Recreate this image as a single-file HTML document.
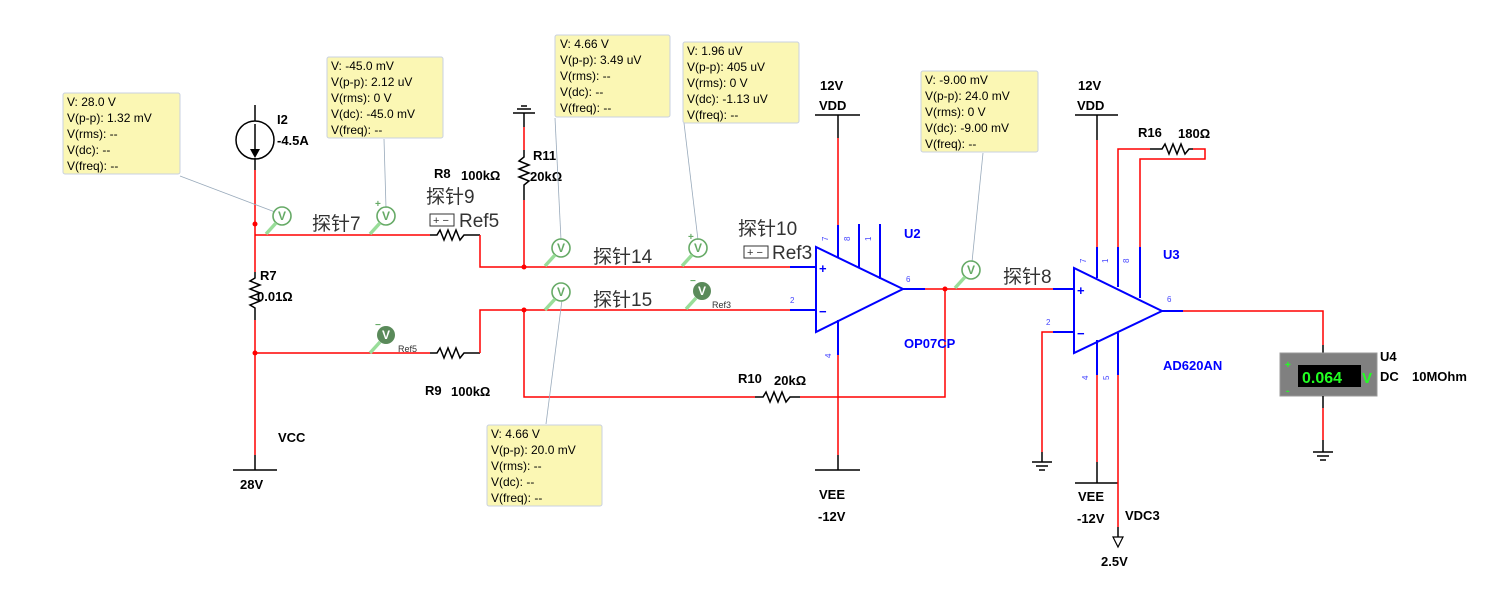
<!DOCTYPE html>
<html><head><meta charset="utf-8"><style>
html,body{margin:0;padding:0;background:#fff;}
svg{display:block;font-family:"Liberation Sans","Noto Sans CJK SC",sans-serif;}
.r{stroke:#f00;stroke-width:1.5;fill:none}
.k{stroke:#000;stroke-width:1.5;fill:none}
.b{stroke:#00f;stroke-width:2;fill:none}
.bx{fill:#fbf7b4;stroke:#c8d0e0;stroke-width:1}
.bt{font-size:12px;fill:#000}
.lbl{font-size:13px;font-weight:bold;fill:#000}
.bl{font-size:13px;font-weight:bold;fill:#00f}
.cn{font-size:19px;fill:#333}
.pn{font-size:8px;fill:#44f}
.ln{stroke:#9ab;stroke-width:0.8}
</style></head><body>
<svg width="1506" height="602" viewBox="0 0 1506 602">
<!-- left column -->
<line class="k" x1="255" y1="105" x2="255" y2="121"/>
<circle cx="255" cy="140" r="19" fill="none" stroke="#000" stroke-width="1.5"/>
<line class="k" x1="255" y1="124" x2="255" y2="152"/>
<polygon points="250,149 260,149 255,158" fill="#000"/>
<line class="k" x1="255" y1="158" x2="255" y2="170"/>
<line class="r" x1="255" y1="170" x2="255" y2="272"/>
<polyline class="k" points="255,272 255,278 250,281 260,285 250,289 260,293 250,297 260,301 250,305 255,308 255,320"/>
<line class="r" x1="255" y1="320" x2="255" y2="455"/>
<line class="k" x1="255" y1="455" x2="255" y2="470"/>
<line class="k" x1="233" y1="470" x2="277" y2="470"/>
<circle cx="255" cy="224" r="2.5" fill="#f00"/>
<circle cx="255" cy="353" r="2.5" fill="#f00"/>
<!-- R8 path -->
<line class="r" x1="255" y1="235" x2="430" y2="235"/>
<polyline class="k" points="430,235 437,235 440,230 444,240 448,230 452,240 456,230 460,240 464,235 480,235"/>
<polyline class="r" points="480,235 480,267 790,267"/>
<line class="b" x1="790" y1="267" x2="815" y2="267"/>
<!-- R11 -->
<line class="k" x1="513" y1="113" x2="535" y2="113"/><line class="k" x1="517" y1="109" x2="531" y2="109"/><line class="k" x1="521" y1="106" x2="527" y2="106"/>
<line class="k" x1="524" y1="113" x2="524" y2="127"/>
<line class="r" x1="524" y1="127" x2="524" y2="150"/>
<polyline class="k" points="524,150 524,157 519,161 529,165 519,169 529,173 519,177 529,181 524,185 524,200"/>
<line class="r" x1="524" y1="200" x2="524" y2="267"/>
<circle cx="524" cy="267" r="2.5" fill="#f00"/>
<!-- R9 path -->
<line class="r" x1="255" y1="353" x2="430" y2="353"/>
<polyline class="k" points="430,353 437,353 440,348 444,358 448,348 452,358 456,348 460,358 464,353 480,353"/>
<polyline class="r" points="480,353 480,310 790,310"/>
<line class="b" x1="790" y1="310" x2="815" y2="310"/>
<circle cx="524" cy="310" r="2.5" fill="#f00"/>
<polyline class="r" points="524,310 524,397 755,397"/>
<polyline class="k" points="755,397 763,397 766,392 770,402 774,392 778,402 782,392 786,402 790,397 800,397"/>
<polyline class="r" points="800,397 945,397 945,289"/>
<circle cx="945" cy="289" r="2.5" fill="#f00"/>
<!-- U2 -->
<polygon points="816,247 816,332 903,289" fill="none" stroke="#00f" stroke-width="2"/>
<text x="819" y="273" class="bl" font-size="16">+</text>
<text x="819" y="316" class="bl" font-size="16">−</text>
<line class="k" x1="815" y1="115" x2="860" y2="115"/>
<line class="k" x1="838" y1="115" x2="838" y2="138"/>
<line class="r" x1="838" y1="138" x2="838" y2="225"/>
<line class="b" x1="838" y1="225" x2="838" y2="258"/>
<line class="b" x1="859" y1="224" x2="859" y2="268"/>
<line class="b" x1="880" y1="224" x2="880" y2="279"/>
<line class="b" x1="838" y1="320" x2="838" y2="355"/>
<line class="r" x1="838" y1="355" x2="838" y2="455"/>
<line class="k" x1="838" y1="455" x2="838" y2="470"/>
<line class="k" x1="815" y1="470" x2="860" y2="470"/>
<line class="b" x1="903" y1="289" x2="925" y2="289"/>
<line class="r" x1="925" y1="289" x2="1053" y2="289"/>
<line class="b" x1="1053" y1="289" x2="1075" y2="289"/>
<text x="823" y="240" class="pn" transform="rotate(-90 826 238)">7</text>
<text x="845" y="240" class="pn" transform="rotate(-90 848 238)">8</text>
<text x="866" y="240" class="pn" transform="rotate(-90 869 238)">1</text>
<text x="825" y="358" class="pn" transform="rotate(-90 828 355)">4</text>
<text x="906" y="282" class="pn">6</text>
<text x="790" y="303" class="pn">2</text>
<!-- U3 -->
<polygon points="1074,268 1074,353 1162,311" fill="none" stroke="#00f" stroke-width="2"/>
<text x="1077" y="295" class="bl" font-size="16">+</text>
<text x="1077" y="338" class="bl" font-size="16">−</text>
<line class="k" x1="1075" y1="115" x2="1118" y2="115"/>
<line class="k" x1="1097" y1="115" x2="1097" y2="140"/>
<line class="r" x1="1097" y1="140" x2="1097" y2="247"/>
<line class="b" x1="1097" y1="247" x2="1097" y2="278"/>
<polyline class="r" points="1118,247 1118,149 1150,149"/>
<polyline class="k" points="1150,149 1162,149 1165,144 1169,154 1173,144 1177,154 1181,144 1185,154 1189,149 1193,149"/>
<polyline class="r" points="1193,149 1205,149 1205,159 1140,159 1140,247"/>
<line class="b" x1="1118" y1="247" x2="1118" y2="287"/>
<line class="b" x1="1140" y1="247" x2="1140" y2="298"/>
<line class="b" x1="1053" y1="332" x2="1074" y2="332"/>
<polyline class="r" points="1053,332 1042,332 1042,452"/>
<line class="k" x1="1032" y1="462" x2="1052" y2="462"/><line class="k" x1="1036" y1="466" x2="1048" y2="466"/><line class="k" x1="1039" y1="470" x2="1045" y2="470"/>
<line class="k" x1="1042" y1="452" x2="1042" y2="462"/>
<line class="b" x1="1097" y1="340" x2="1097" y2="375"/>
<line class="r" x1="1097" y1="375" x2="1097" y2="462"/>
<line class="k" x1="1097" y1="462" x2="1097" y2="483"/>
<line class="k" x1="1075" y1="483" x2="1118" y2="483"/>
<line class="b" x1="1118" y1="333" x2="1118" y2="375"/>
<line class="r" x1="1118" y1="375" x2="1118" y2="527"/>
<line class="k" x1="1118" y1="527" x2="1118" y2="537"/>
<polygon points="1113,537 1123,537 1118,547" fill="none" stroke="#000" stroke-width="1.2"/>
<line class="b" x1="1162" y1="311" x2="1183" y2="311"/>
<polyline class="r" points="1183,311 1323,311 1323,345"/>
<line class="k" x1="1323" y1="345" x2="1323" y2="353"/>
<text x="1081" y="262" class="pn" transform="rotate(-90 1084 260)">7</text>
<text x="1103" y="262" class="pn" transform="rotate(-90 1106 260)">1</text>
<text x="1124" y="262" class="pn" transform="rotate(-90 1127 260)">8</text>
<text x="1082" y="380" class="pn" transform="rotate(-90 1085 377)">4</text>
<text x="1103" y="380" class="pn" transform="rotate(-90 1106 377)">5</text>
<text x="1167" y="302" class="pn">6</text>
<text x="1046" y="325" class="pn">2</text>
<!-- meter -->
<rect x="1280" y="353" width="97" height="43" fill="#808080" stroke="#999"/>
<rect x="1298" y="365" width="63" height="22" fill="#000"/>
<text x="1302" y="383" font-size="16" font-weight="bold" fill="#2f2">0.064</text>
<text x="1362" y="383" font-size="15" font-weight="bold" fill="#2f2">V</text>
<text x="1285" y="368" font-size="10" font-weight="bold" fill="#2f2">+</text>
<text x="1286" y="394" font-size="10" font-weight="bold" fill="#2f2">-</text>
<line class="k" x1="1323" y1="396" x2="1323" y2="408"/>
<line class="r" x1="1323" y1="408" x2="1323" y2="440"/>
<line class="k" x1="1323" y1="440" x2="1323" y2="452"/>
<line class="k" x1="1313" y1="452" x2="1333" y2="452"/><line class="k" x1="1317" y1="456" x2="1329" y2="456"/><line class="k" x1="1320" y1="460" x2="1326" y2="460"/>
<!-- labels -->
<text x="277" y="124" class="lbl">I2</text><text x="277" y="145" class="lbl">-4.5A</text>
<text x="434" y="178" class="lbl">R8</text><text x="461" y="180" class="lbl">100kΩ</text>
<text x="533" y="160" class="lbl">R11</text><text x="530" y="181" class="lbl">20kΩ</text>
<text x="260" y="280" class="lbl">R7</text><text x="257" y="301" class="lbl">0.01Ω</text>
<text x="425" y="395" class="lbl">R9</text><text x="451" y="396" class="lbl">100kΩ</text>
<text x="738" y="383" class="lbl">R10</text><text x="774" y="385" class="lbl">20kΩ</text>
<text x="278" y="442" class="lbl">VCC</text><text x="240" y="489" class="lbl">28V</text>
<text x="820" y="90" class="lbl">12V</text><text x="819" y="110" class="lbl">VDD</text>
<text x="819" y="499" class="lbl">VEE</text><text x="818" y="521" class="lbl">-12V</text>
<text x="1078" y="90" class="lbl">12V</text><text x="1077" y="110" class="lbl">VDD</text>
<text x="1078" y="501" class="lbl">VEE</text><text x="1077" y="523" class="lbl">-12V</text>
<text x="1125" y="520" class="lbl">VDC3</text><text x="1101" y="566" class="lbl">2.5V</text>
<text x="1138" y="137" class="lbl">R16</text><text x="1178" y="138" class="lbl">180Ω</text>
<text x="1380" y="361" class="lbl">U4</text><text x="1380" y="381" class="lbl">DC</text><text x="1412" y="381" class="lbl">10MOhm</text>
<text x="904" y="238" class="bl">U2</text><text x="904" y="348" class="bl">OP07CP</text>
<text x="1163" y="259" class="bl">U3</text><text x="1163" y="370" class="bl">AD620AN</text>
<!-- chinese probe labels -->
<text x="312" y="230" class="cn">探针7</text>
<text x="426" y="203" class="cn">探针9</text>
<rect x="430" y="214" width="24" height="12" fill="none" stroke="#333"/><text x="433" y="224" font-size="11" fill="#333">+ −</text>
<text x="459" y="227" class="cn">Ref5</text>
<text x="593" y="263" class="cn">探针14</text>
<text x="738" y="235" class="cn">探针10</text>
<rect x="744" y="246" width="24" height="12" fill="none" stroke="#333"/><text x="747" y="256" font-size="11" fill="#333">+ −</text>
<text x="772" y="259" class="cn">Ref3</text>
<text x="593" y="306" class="cn">探针15</text>
<text x="1003" y="283" class="cn">探针8</text>
<text x="712" y="308" font-size="9" fill="#333">Ref3</text>
<text x="398" y="352" font-size="9" fill="#333">Ref5</text>
<!-- leader lines -->
<line class="ln" x1="180" y1="176" x2="275" y2="212"/>
<line class="ln" x1="384" y1="139" x2="386" y2="208"/>
<line class="ln" x1="555" y1="118" x2="561" y2="240"/>
<line class="ln" x1="684" y1="123" x2="698" y2="240"/>
<line class="ln" x1="983" y1="153" x2="972" y2="262"/>
<line class="ln" x1="562" y1="300" x2="546" y2="424"/>
<!-- probes -->
<g fill="none" stroke="#6a6" stroke-width="1.6">
<circle cx="282" cy="216" r="9"/><circle cx="386" cy="216" r="9"/><circle cx="561" cy="248" r="9"/><circle cx="698" cy="248" r="9"/><circle cx="561" cy="292" r="9"/><circle cx="971" cy="270" r="9"/>
</g>
<g fill="#5a8a5a"><circle cx="702" cy="291" r="9"/><circle cx="386" cy="335" r="9"/></g>
<g stroke="#9d9" stroke-width="3.5">
<line x1="276" y1="223" x2="266" y2="234"/><line x1="380" y1="223" x2="370" y2="234"/><line x1="555" y1="255" x2="545" y2="266"/><line x1="692" y1="255" x2="682" y2="266"/><line x1="555" y1="299" x2="545" y2="310"/><line x1="965" y1="277" x2="955" y2="288"/><line x1="696" y1="298" x2="686" y2="309"/><line x1="380" y1="342" x2="370" y2="353"/>
</g>
<g font-size="12" font-weight="bold" text-anchor="middle">
<text x="282" y="220" fill="#6a6">V</text><text x="386" y="220" fill="#6a6">V</text><text x="561" y="252" fill="#6a6">V</text><text x="698" y="252" fill="#6a6">V</text><text x="561" y="296" fill="#6a6">V</text><text x="971" y="274" fill="#6a6">V</text>
<text x="702" y="295" fill="#fff">V</text><text x="386" y="339" fill="#fff">V</text>
</g>
<g font-size="10" fill="#6a6" font-weight="bold"><text x="375" y="207">+</text><text x="688" y="240">+</text><text x="690" y="284">−</text><text x="375" y="328">−</text></g>
<!-- boxes -->
<rect class="bx" x="63" y="93" width="117" height="81" rx="2"/>
<text class="bt"><tspan x="67" y="106">V: 28.0 V</tspan><tspan x="67" y="122">V(p-p): 1.32 mV</tspan><tspan x="67" y="138">V(rms): --</tspan><tspan x="67" y="154">V(dc): --</tspan><tspan x="67" y="170">V(freq): --</tspan></text>
<rect class="bx" x="327" y="57" width="116" height="81" rx="2"/>
<text class="bt"><tspan x="331" y="70">V: -45.0 mV</tspan><tspan x="331" y="86">V(p-p): 2.12 uV</tspan><tspan x="331" y="102">V(rms): 0 V</tspan><tspan x="331" y="118">V(dc): -45.0 mV</tspan><tspan x="331" y="134">V(freq): --</tspan></text>
<rect class="bx" x="555" y="35" width="115" height="82" rx="2"/>
<text class="bt"><tspan x="560" y="48">V: 4.66 V</tspan><tspan x="560" y="64">V(p-p): 3.49 uV</tspan><tspan x="560" y="80">V(rms): --</tspan><tspan x="560" y="96">V(dc): --</tspan><tspan x="560" y="112">V(freq): --</tspan></text>
<rect class="bx" x="683" y="42" width="116" height="81" rx="2"/>
<text class="bt"><tspan x="687" y="55">V: 1.96 uV</tspan><tspan x="687" y="71">V(p-p): 405 uV</tspan><tspan x="687" y="87">V(rms): 0 V</tspan><tspan x="687" y="103">V(dc): -1.13 uV</tspan><tspan x="687" y="119">V(freq): --</tspan></text>
<rect class="bx" x="921" y="71" width="117" height="81" rx="2"/>
<text class="bt"><tspan x="925" y="84">V: -9.00 mV</tspan><tspan x="925" y="100">V(p-p): 24.0 mV</tspan><tspan x="925" y="116">V(rms): 0 V</tspan><tspan x="925" y="132">V(dc): -9.00 mV</tspan><tspan x="925" y="148">V(freq): --</tspan></text>
<rect class="bx" x="487" y="425" width="115" height="81" rx="2"/>
<text class="bt"><tspan x="491" y="438">V: 4.66 V</tspan><tspan x="491" y="454">V(p-p): 20.0 mV</tspan><tspan x="491" y="470">V(rms): --</tspan><tspan x="491" y="486">V(dc): --</tspan><tspan x="491" y="502">V(freq): --</tspan></text>
</svg>
</body></html>
